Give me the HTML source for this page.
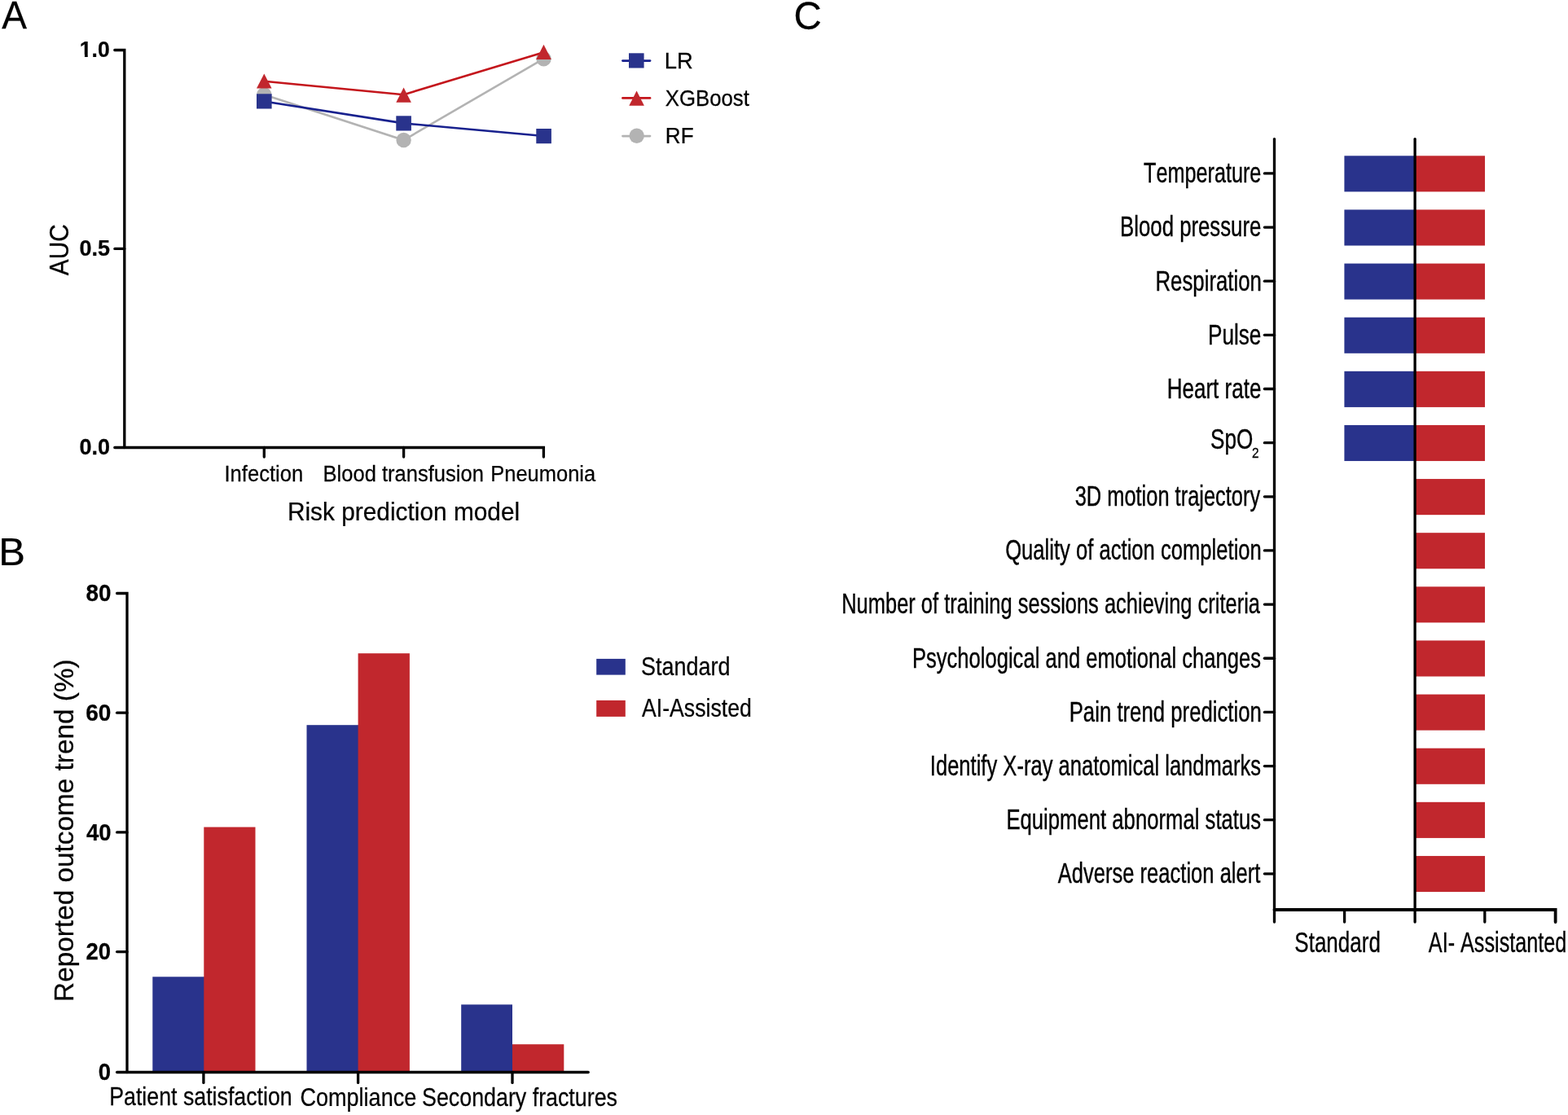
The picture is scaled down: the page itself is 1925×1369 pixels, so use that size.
<!DOCTYPE html>
<html><head><meta charset="utf-8"><style>
html,body{margin:0;padding:0;background:#fff;}
body{width:1925px;height:1369px;overflow:hidden;}
svg{display:block;}
text{font-family:"Liberation Sans",Arial,sans-serif;font-kerning:none;}
</style></head><body>
<svg width="1925" height="1369" viewBox="0 0 1925 1369">
<rect width="1925" height="1369" fill="#fff"/>
<text transform="translate(2.21,35.30) scale(0.9484,1)" font-size="48.50" font-weight="normal" fill="#000" stroke="#000" stroke-width="0.25">A</text>
<path d="M140.8 61.5 H152.8 V549.5" stroke="#000" stroke-width="3.3" fill="none" stroke-linecap="round" stroke-linejoin="miter"/>
<path d="M140.8 549.5 H667.4 V561.0" stroke="#000" stroke-width="3.3" fill="none" stroke-linecap="round" stroke-linejoin="miter"/>
<path d="M140.9 305.4 H152.8" stroke="#000" stroke-width="3.3" fill="none" stroke-linecap="round" stroke-linejoin="miter"/>
<path d="M324.3 549.5 V561.0" stroke="#000" stroke-width="3.3" fill="none" stroke-linecap="round" stroke-linejoin="miter"/>
<path d="M495.6 549.5 V561.0" stroke="#000" stroke-width="3.3" fill="none" stroke-linecap="round" stroke-linejoin="miter"/>
<text transform="translate(97.83,69.80) scale(0.9606,1)" font-size="27.60" font-weight="bold" fill="#000" stroke="#000" stroke-width="0.25">1.0</text>
<g transform="translate(97.83,69.80) scale(0.9606,1)" fill="#fff"><rect x="0.54" y="-2.90" width="5.82" height="3.71"/><rect x="10.31" y="-2.90" width="4.51" height="3.71"/></g>
<text transform="translate(97.53,314.10) scale(0.9779,1)" font-size="27.60" font-weight="bold" fill="#000" stroke="#000" stroke-width="0.25">0.5</text>
<text transform="translate(97.53,557.90) scale(0.9794,1)" font-size="27.60" font-weight="bold" fill="#000" stroke="#000" stroke-width="0.25">0.0</text>
<text transform="translate(84.10,338.16) rotate(-90) scale(0.9252,1)" font-size="32.30" font-weight="normal" stroke="#000" stroke-width="0.25">AUC</text>
<text transform="translate(275.44,591.10) scale(0.9148,1)" font-size="28.00" font-weight="normal" fill="#000" stroke="#000" stroke-width="0.25">Infection</text>
<text transform="translate(396.60,590.90) scale(0.9122,1)" font-size="28.00" font-weight="normal" fill="#000" stroke="#000" stroke-width="0.25">Blood transfusion</text>
<text transform="translate(602.31,590.90) scale(0.9099,1)" font-size="28.00" font-weight="normal" fill="#000" stroke="#000" stroke-width="0.25">Pneumonia</text>
<text transform="translate(352.95,638.90) scale(0.9383,1)" font-size="31.80" font-weight="normal" fill="#000" stroke="#000" stroke-width="0.25">Risk prediction model</text>
<path d="M324.3 116.2 L495.6 172 L667.5 72.2" stroke="#B3B3B3" stroke-width="2.6" fill="none"/>
<circle cx="324.30" cy="116.20" r="9.20" fill="#B3B3B3"/>
<circle cx="495.60" cy="172.00" r="9.20" fill="#B3B3B3"/>
<circle cx="667.50" cy="72.20" r="9.20" fill="#B3B3B3"/>
<path d="M324.3 124.5 L495.6 151.4 L667.5 167.0" stroke="#18218E" stroke-width="2.6" fill="none"/>
<rect x="315.00" y="115.30" width="18.60" height="18.20" fill="#29338C"/>
<rect x="486.30" y="142.30" width="18.60" height="18.20" fill="#29338C"/>
<rect x="658.30" y="158.00" width="18.60" height="18.20" fill="#29338C"/>
<path d="M324.3 99.8 L495.6 116.2 L667.5 64.2" stroke="#C4161C" stroke-width="2.6" fill="none"/>
<path d="M324.30 90.40 L333.60 108.50 L315.00 108.50 Z" fill="#C1272D"/>
<path d="M495.60 107.50 L504.90 125.70 L486.30 125.70 Z" fill="#C1272D"/>
<path d="M667.50 54.80 L676.80 73.10 L658.20 73.10 Z" fill="#C1272D"/>
<path d="M764.4 74.6 H798.1" stroke="#18218E" stroke-width="2.6" fill="none" stroke-linecap="round"/>
<rect x="772.00" y="65.30" width="18.60" height="18.20" fill="#29338C"/>
<path d="M764.4 120.4 H798.1" stroke="#C4161C" stroke-width="2.6" fill="none" stroke-linecap="round"/>
<path d="M781.60 111.50 L790.90 129.70 L772.30 129.70 Z" fill="#C1272D"/>
<path d="M764.4 167.1 H798.1" stroke="#B3B3B3" stroke-width="2.6" fill="none" stroke-linecap="round"/>
<circle cx="781.70" cy="166.70" r="9.20" fill="#B3B3B3"/>
<text transform="translate(815.85,83.50) scale(0.9925,1)" font-size="27.60" font-weight="normal" fill="#000" stroke="#000" stroke-width="0.25">LR</text>
<text transform="translate(816.82,129.50) scale(0.9331,1)" font-size="27.60" font-weight="normal" fill="#000" stroke="#000" stroke-width="0.25">XGBoost</text>
<text transform="translate(816.86,175.90) scale(0.9455,1)" font-size="27.60" font-weight="normal" fill="#000" stroke="#000" stroke-width="0.25">RF</text>
<text transform="translate(-1.82,693.80) scale(1.0390,1)" font-size="47.20" font-weight="normal" fill="#000" stroke="#000" stroke-width="0.25">B</text>
<rect x="187.30" y="1199.30" width="64.00" height="117.20" fill="#29338C"/>
<rect x="250.30" y="1015.50" width="63.20" height="301.00" fill="#C1272D"/>
<rect x="376.50" y="890.20" width="64.10" height="426.30" fill="#29338C"/>
<rect x="439.60" y="802.20" width="63.30" height="514.30" fill="#C1272D"/>
<rect x="628.00" y="1282.20" width="64.30" height="34.30" fill="#C1272D"/>
<rect x="566.20" y="1233.40" width="62.80" height="83.10" fill="#29338C"/>
<path d="M143.6 728.5 H156.0 V1316.5" stroke="#000" stroke-width="3.3" fill="none" stroke-linecap="round" stroke-linejoin="miter"/>
<path d="M143.6 1316.5 H722.2" stroke="#000" stroke-width="3.3" fill="none" stroke-linecap="round" stroke-linejoin="miter"/>
<path d="M143.6 875.20 H156.0" stroke="#000" stroke-width="3.3" fill="none" stroke-linecap="round" stroke-linejoin="miter"/>
<path d="M143.6 1021.90 H156.0" stroke="#000" stroke-width="3.3" fill="none" stroke-linecap="round" stroke-linejoin="miter"/>
<path d="M143.6 1168.60 H156.0" stroke="#000" stroke-width="3.3" fill="none" stroke-linecap="round" stroke-linejoin="miter"/>
<path d="M249.9 1316.5 V1329.4" stroke="#000" stroke-width="3.3" fill="none" stroke-linecap="round" stroke-linejoin="miter"/>
<path d="M439.6 1316.5 V1329.4" stroke="#000" stroke-width="3.3" fill="none" stroke-linecap="round" stroke-linejoin="miter"/>
<path d="M629 1316.5 V1329.4" stroke="#000" stroke-width="3.3" fill="none" stroke-linecap="round" stroke-linejoin="miter"/>
<text transform="translate(105.41,738.30) scale(0.9393,1)" font-size="29.70" font-weight="bold" fill="#000" stroke="#000" stroke-width="0.25">80</text>
<text transform="translate(105.27,885.00) scale(0.9437,1)" font-size="29.70" font-weight="bold" fill="#000" stroke="#000" stroke-width="0.25">60</text>
<text transform="translate(105.88,1031.70) scale(0.9245,1)" font-size="29.70" font-weight="bold" fill="#000" stroke="#000" stroke-width="0.25">40</text>
<text transform="translate(105.55,1178.40) scale(0.9257,1)" font-size="29.70" font-weight="bold" fill="#000" stroke="#000" stroke-width="0.25">20</text>
<text transform="translate(120.71,1326.40) scale(0.9274,1)" font-size="29.70" font-weight="bold" fill="#000" stroke="#000" stroke-width="0.25">0</text>
<text transform="translate(90.20,1229.94) rotate(-90) scale(1.0199,1)" font-size="32.70" font-weight="normal" stroke="#000" stroke-width="0.25">Reported outcome trend (%)</text>
<text transform="translate(134.20,1357.20) scale(0.8717,1)" font-size="30.70" font-weight="normal" fill="#000" stroke="#000" stroke-width="0.25">Patient satisfaction</text>
<text transform="translate(368.43,1358.00) scale(0.8814,1)" font-size="30.70" font-weight="normal" fill="#000" stroke="#000" stroke-width="0.25">Compliance</text>
<text transform="translate(518.08,1358.00) scale(0.8735,1)" font-size="30.70" font-weight="normal" fill="#000" stroke="#000" stroke-width="0.25">Secondary fractures</text>
<rect x="732.20" y="808.90" width="35.60" height="19.70" fill="#29338C"/>
<rect x="732.20" y="859.90" width="35.60" height="20.00" fill="#C1272D"/>
<text transform="translate(787.07,828.60) scale(0.8793,1)" font-size="30.70" font-weight="normal" fill="#000" stroke="#000" stroke-width="0.25">Standard</text>
<text transform="translate(787.95,879.70) scale(0.8687,1)" font-size="30.70" font-weight="normal" fill="#000" stroke="#000" stroke-width="0.25">AI-Assisted</text>
<text transform="translate(974.39,36.00) scale(0.9767,1)" font-size="48.50" font-weight="normal" fill="#000" stroke="#000" stroke-width="0.25">C</text>
<rect x="1650.40" y="191.30" width="86.70" height="44.10" fill="#29338C"/>
<rect x="1737.10" y="191.30" width="85.90" height="44.10" fill="#C1272D"/>
<rect x="1650.40" y="257.43" width="86.70" height="44.10" fill="#29338C"/>
<rect x="1737.10" y="257.43" width="85.90" height="44.10" fill="#C1272D"/>
<rect x="1650.40" y="323.55" width="86.70" height="44.10" fill="#29338C"/>
<rect x="1737.10" y="323.55" width="85.90" height="44.10" fill="#C1272D"/>
<rect x="1650.40" y="389.68" width="86.70" height="44.10" fill="#29338C"/>
<rect x="1737.10" y="389.68" width="85.90" height="44.10" fill="#C1272D"/>
<rect x="1650.40" y="455.81" width="86.70" height="44.10" fill="#29338C"/>
<rect x="1737.10" y="455.81" width="85.90" height="44.10" fill="#C1272D"/>
<rect x="1650.40" y="521.94" width="86.70" height="44.10" fill="#29338C"/>
<rect x="1737.10" y="521.94" width="85.90" height="44.10" fill="#C1272D"/>
<rect x="1737.10" y="588.06" width="85.90" height="44.10" fill="#C1272D"/>
<rect x="1737.10" y="654.19" width="85.90" height="44.10" fill="#C1272D"/>
<rect x="1737.10" y="720.32" width="85.90" height="44.10" fill="#C1272D"/>
<rect x="1737.10" y="786.44" width="85.90" height="44.10" fill="#C1272D"/>
<rect x="1737.10" y="852.57" width="85.90" height="44.10" fill="#C1272D"/>
<rect x="1737.10" y="918.70" width="85.90" height="44.10" fill="#C1272D"/>
<rect x="1737.10" y="984.82" width="85.90" height="44.10" fill="#C1272D"/>
<rect x="1737.10" y="1050.95" width="85.90" height="44.10" fill="#C1272D"/>
<path d="M1552.4 212.90 H1564.5" stroke="#000" stroke-width="3.3" fill="none" stroke-linecap="round" stroke-linejoin="miter"/>
<text transform="translate(1404.03,224.20) scale(0.7375,1)" font-size="34.20" font-weight="normal" fill="#000" stroke="#000" stroke-width="0.4">Temperature</text>
<path d="M1552.4 279.05 H1564.5" stroke="#000" stroke-width="3.3" fill="none" stroke-linecap="round" stroke-linejoin="miter"/>
<text transform="translate(1375.09,290.35) scale(0.7536,1)" font-size="34.20" font-weight="normal" fill="#000" stroke="#000" stroke-width="0.4">Blood pressure</text>
<path d="M1552.4 345.20 H1564.5" stroke="#000" stroke-width="3.3" fill="none" stroke-linecap="round" stroke-linejoin="miter"/>
<text transform="translate(1418.48,356.50) scale(0.7543,1)" font-size="34.20" font-weight="normal" fill="#000" stroke="#000" stroke-width="0.4">Respiration</text>
<path d="M1552.4 411.35 H1564.5" stroke="#000" stroke-width="3.3" fill="none" stroke-linecap="round" stroke-linejoin="miter"/>
<text transform="translate(1482.95,422.65) scale(0.7658,1)" font-size="34.20" font-weight="normal" fill="#000" stroke="#000" stroke-width="0.4">Pulse</text>
<path d="M1552.4 477.50 H1564.5" stroke="#000" stroke-width="3.3" fill="none" stroke-linecap="round" stroke-linejoin="miter"/>
<text transform="translate(1432.66,488.80) scale(0.7615,1)" font-size="34.20" font-weight="normal" fill="#000" stroke="#000" stroke-width="0.4">Heart rate</text>
<path d="M1552.4 543.65 H1564.5" stroke="#000" stroke-width="3.3" fill="none" stroke-linecap="round" stroke-linejoin="miter"/>
<text transform="translate(1486.01,550.80) scale(0.7501,1)" font-size="34.80" font-weight="normal" fill="#000" stroke="#000" stroke-width="0.4">SpO</text>
<text transform="translate(1536.93,562.00) scale(0.8831,1)" font-size="17.40" font-weight="normal" fill="#000" stroke="#000" stroke-width="0.3">2</text>
<path d="M1552.4 609.80 H1564.5" stroke="#000" stroke-width="3.3" fill="none" stroke-linecap="round" stroke-linejoin="miter"/>
<text transform="translate(1319.63,621.10) scale(0.7441,1)" font-size="34.20" font-weight="normal" fill="#000" stroke="#000" stroke-width="0.4">3D motion trajectory</text>
<path d="M1552.4 675.95 H1564.5" stroke="#000" stroke-width="3.3" fill="none" stroke-linecap="round" stroke-linejoin="miter"/>
<text transform="translate(1234.19,687.25) scale(0.7493,1)" font-size="34.20" font-weight="normal" fill="#000" stroke="#000" stroke-width="0.4">Quality of action completion</text>
<path d="M1552.4 742.10 H1564.5" stroke="#000" stroke-width="3.3" fill="none" stroke-linecap="round" stroke-linejoin="miter"/>
<text transform="translate(1033.21,753.40) scale(0.7450,1)" font-size="34.20" font-weight="normal" fill="#000" stroke="#000" stroke-width="0.4">Number of training sessions achieving criteria</text>
<path d="M1552.4 808.25 H1564.5" stroke="#000" stroke-width="3.3" fill="none" stroke-linecap="round" stroke-linejoin="miter"/>
<text transform="translate(1119.90,819.55) scale(0.7485,1)" font-size="34.20" font-weight="normal" fill="#000" stroke="#000" stroke-width="0.4">Psychological and emotional changes</text>
<path d="M1552.4 874.40 H1564.5" stroke="#000" stroke-width="3.3" fill="none" stroke-linecap="round" stroke-linejoin="miter"/>
<text transform="translate(1312.69,885.70) scale(0.7532,1)" font-size="34.20" font-weight="normal" fill="#000" stroke="#000" stroke-width="0.4">Pain trend prediction</text>
<path d="M1552.4 940.55 H1564.5" stroke="#000" stroke-width="3.3" fill="none" stroke-linecap="round" stroke-linejoin="miter"/>
<text transform="translate(1141.84,951.85) scale(0.7475,1)" font-size="34.20" font-weight="normal" fill="#000" stroke="#000" stroke-width="0.4">Identify X-ray anatomical landmarks</text>
<path d="M1552.4 1006.70 H1564.5" stroke="#000" stroke-width="3.3" fill="none" stroke-linecap="round" stroke-linejoin="miter"/>
<text transform="translate(1235.39,1018.00) scale(0.7514,1)" font-size="34.20" font-weight="normal" fill="#000" stroke="#000" stroke-width="0.4">Equipment abnormal status</text>
<path d="M1552.4 1072.85 H1564.5" stroke="#000" stroke-width="3.3" fill="none" stroke-linecap="round" stroke-linejoin="miter"/>
<text transform="translate(1298.65,1084.15) scale(0.7480,1)" font-size="34.20" font-weight="normal" fill="#000" stroke="#000" stroke-width="0.4">Adverse reaction alert</text>
<path d="M1564.5 170.6 V1132.0" stroke="#000" stroke-width="3.3" fill="none" stroke-linecap="round" stroke-linejoin="miter"/>
<path d="M1737.1 170.6 V1132.0" stroke="#000" stroke-width="3.3" fill="none" stroke-linecap="round" stroke-linejoin="miter"/>
<path d="M1564.5 1117.0 H1909.6 V1132.0" stroke="#000" stroke-width="3.8" fill="none" stroke-linecap="round" stroke-linejoin="miter"/>
<path d="M1650.6 1117.0 V1132.0" stroke="#000" stroke-width="3.3" fill="none" stroke-linecap="round" stroke-linejoin="miter"/>
<path d="M1822.8 1117.0 V1132.0" stroke="#000" stroke-width="3.3" fill="none" stroke-linecap="round" stroke-linejoin="miter"/>
<text transform="translate(1589.32,1168.80) scale(0.7431,1)" font-size="35.00" font-weight="normal" fill="#000" stroke="#000" stroke-width="0.35">Standard</text>
<text transform="translate(1753.85,1168.80) scale(0.7200,1)" font-size="35.00" font-weight="normal" fill="#000" stroke="#000" stroke-width="0.35">AI- Assistanted</text>
</svg>
</body></html>
